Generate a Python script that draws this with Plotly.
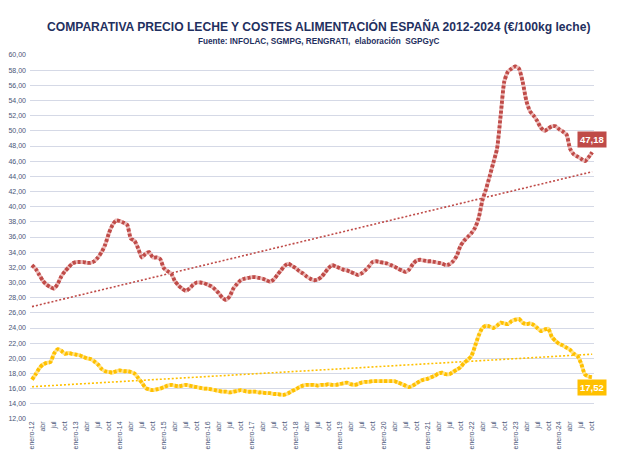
import numpy as np
import plotly.graph_objects as go

# ---------------- data (monthly, Jan 2012 - Oct 2024) ----------------
leche_2012 = [32.3, 31.8, 31.0, 30.2, 29.7, 29.4, 29.2, 29.8, 30.8, 31.5, 32.0, 32.5]
leche_2013 = [32.7, 32.7, 32.7, 32.6, 32.6, 32.8, 33.3, 34.0, 35.0, 36.5, 37.6, 38.2]
leche_2014 = [38.1, 37.9, 37.6, 35.8, 35.5, 34.5, 33.3, 33.8, 34.0, 33.3, 33.3, 33.1]
leche_2015 = [31.9, 31.5, 31.2, 30.2, 29.6, 29.2, 28.9, 29.2, 29.7, 30.0, 30.0, 29.9]
leche_2016 = [29.7, 29.5, 29.1, 28.6, 28.0, 27.7, 28.2, 29.2, 29.8, 30.3, 30.5, 30.6]
leche_2017 = [30.7, 30.7, 30.6, 30.5, 30.3, 30.1, 30.4, 31.0, 31.6, 32.2, 32.5, 32.2]
leche_2018 = [31.9, 31.5, 31.2, 30.8, 30.5, 30.3, 30.4, 30.7, 31.3, 31.9, 32.3, 32.1]
leche_2019 = [31.9, 31.7, 31.6, 31.4, 31.2, 31.0, 31.2, 31.6, 32.1, 32.7, 32.8, 32.7]
leche_2020 = [32.6, 32.5, 32.3, 32.1, 31.8, 31.6, 31.4, 31.7, 32.4, 32.9, 33.0, 32.9]
leche_2021 = [32.8, 32.8, 32.7, 32.6, 32.5, 32.3, 32.4, 32.8, 33.5, 34.8, 35.5, 36.0]
leche_2022 = [36.5, 37.2, 38.5, 40.8, 42.3, 44.0, 45.8, 47.6, 52.0, 56.5, 57.8, 58.2]
leche_2023 = [58.5, 58.2, 56.5, 54.0, 52.6, 52.0, 51.3, 50.4, 50.0, 50.3, 50.6, 50.6]
leche_2024 = [50.2, 49.9, 49.5, 47.6, 46.9, 46.6, 46.3, 46.0, 46.5, 47.18]

alim_2012 = [17.2, 17.9, 18.7, 19.2, 19.4, 19.5, 20.6, 21.2, 21.0, 20.6, 20.7, 20.6]
alim_2013 = [20.5, 20.4, 20.2, 20.0, 19.9, 19.6, 19.2, 18.6, 18.3, 18.2, 18.1, 18.3]
alim_2014 = [18.4, 18.3, 18.3, 18.2, 18.0, 17.4, 16.8, 16.1, 15.9, 15.8, 15.9, 16.0]
alim_2015 = [16.2, 16.4, 16.5, 16.4, 16.3, 16.4, 16.5, 16.4, 16.3, 16.2, 16.1, 16.0]
alim_2016 = [16.0, 15.9, 15.8, 15.7, 15.6, 15.6, 15.5, 15.6, 15.7, 15.8, 15.7, 15.6]
alim_2017 = [15.6, 15.6, 15.5, 15.5, 15.4, 15.4, 15.3, 15.3, 15.2, 15.2, 15.4, 15.7]
alim_2018 = [15.9, 16.2, 16.4, 16.5, 16.5, 16.5, 16.4, 16.5, 16.5, 16.6, 16.5, 16.5]
alim_2019 = [16.6, 16.7, 16.8, 16.6, 16.5, 16.6, 16.8, 16.9, 16.9, 17.0, 17.0, 17.0]
alim_2020 = [17.0, 17.0, 17.0, 17.0, 16.8, 16.6, 16.4, 16.2, 16.4, 16.7, 17.0, 17.2]
alim_2021 = [17.3, 17.5, 17.7, 18.0, 18.1, 17.9, 17.9, 18.2, 18.5, 18.8, 19.4, 19.8]
alim_2022 = [20.3, 21.6, 23.0, 24.0, 24.3, 24.2, 24.0, 24.3, 24.7, 24.6, 24.5, 24.9]
alim_2023 = [25.1, 25.2, 24.7, 24.5, 24.6, 24.4, 24.0, 23.6, 23.8, 23.9, 22.8, 22.3]
alim_2024 = [21.9, 21.7, 21.4, 21.1, 20.6, 20.3, 19.3, 17.9, 17.6, 17.52]

years = ["12", "13", "14", "15", "16", "17", "18", "19", "20", "21", "22", "23", "24"]
quarter_labels = ["enero-{}", "abr", "jul", "oct"]

title_text = "COMPARATIVA PRECIO LECHE Y COSTES ALIMENTACIÓN ESPAÑA 2012-2024 (€/100kg leche)"
subtitle_text = "Fuente: INFOLAC, SGMPG, RENGRATI,  elaboración  SGPGyC"

# ---------------- build ----------------
leche = (leche_2012 + leche_2013 + leche_2014 + leche_2015 + leche_2016 + leche_2017 +
         leche_2018 + leche_2019 + leche_2020 + leche_2021 + leche_2022 + leche_2023 + leche_2024)
alim = (alim_2012 + alim_2013 + alim_2014 + alim_2015 + alim_2016 + alim_2017 +
        alim_2018 + alim_2019 + alim_2020 + alim_2021 + alim_2022 + alim_2023 + alim_2024)
n = len(leche)
x = np.arange(n)

tickvals, ticktext = [], []
for yi, yy in enumerate(years):
    for qi, lab in enumerate(quarter_labels):
        m = yi * 12 + qi * 3
        if m < n:
            tickvals.append(m)
            ticktext.append(lab.format(yy))

red_dark, red_light = "#bf4b48", "#ecbcba"
yel_dark, yel_light = "#ffc000", "#ffe38a"
FONT = "Liberation Sans, Arial, sans-serif"

fig = go.Figure()

# trend lines
for series, col in [(leche, red_dark), (alim, yel_dark)]:
    a, b = np.polyfit(x, np.array(series), 1)
    fig.add_trace(go.Scatter(x=x, y=a * x + b, mode="lines",
                             line=dict(color=col, width=1.6, dash="2px,2px"),
                             hoverinfo="skip", showlegend=False))

# main series: light base + dark dotted overlay
for series, dark, light in [(leche, red_dark, red_light), (alim, yel_dark, yel_light)]:
    fig.add_trace(go.Scatter(x=x, y=series, mode="lines",
                             line=dict(color=light, width=3.8, shape="spline", smoothing=0.6),
                             showlegend=False))
    fig.add_trace(go.Scatter(x=x, y=series, mode="lines",
                             line=dict(color=dark, width=3.8, dash="3px,2px", shape="spline", smoothing=0.6),
                             showlegend=False))

# end labels
fig.add_annotation(x=x[-1], y=leche[-1], text="<b>{:.2f}</b>".format(leche[-1]).replace(".", ","),
                   showarrow=False, yshift=13, xshift=0, bgcolor=red_dark,
                   font=dict(color="white", size=9.5, family=FONT), borderpad=2)
fig.add_annotation(x=x[-1], y=alim[-1], text="<b>{:.2f}</b>".format(alim[-1]).replace(".", ","),
                   showarrow=False, yshift=-10, xshift=0, bgcolor=yel_dark,
                   font=dict(color="white", size=9.5, family=FONT), borderpad=2)

# layout geometry (page body has an 8px offset)
L, R, T, B = 22, 50, 47, 50
plot_h = 461 - T - B
plot_w = 636 - L - R

# title & subtitle
fig.add_annotation(xref="paper", yref="paper", x=(310 - L) / plot_w, y=(461 - B - 18) / plot_h,
                   xanchor="center", yanchor="middle", showarrow=False,
                   text="<b>" + title_text + "</b>",
                   font=dict(family=FONT, size=12.1, color="#1f3060"))
fig.add_annotation(xref="paper", yref="paper", x=(310 - L) / plot_w, y=(461 - B - 34) / plot_h,
                   xanchor="center", yanchor="middle", showarrow=False,
                   text="<b>" + subtitle_text + "</b>",
                   font=dict(family=FONT, size=8.2, color="#1f3060"))

fig.update_layout(
    width=636, height=461,
    paper_bgcolor="white", plot_bgcolor="white",
    margin=dict(l=L, r=R, t=T, b=B),
    separators=",.",
    xaxis=dict(
        range=[-0.55, n - 1 + 0.5], automargin=False,
        tickmode="array", tickvals=tickvals, ticktext=ticktext, tickangle=-90,
        tickfont=dict(family=FONT, size=7, color="#4a5678"),
        showgrid=False, zeroline=False, showline=False, ticks="",
    ),
    yaxis=dict(
        range=[12, 60], dtick=2, tick0=12, tickformat=".2f", automargin=False,
        tickfont=dict(family=FONT, size=7, color="#4a5678"),
        showgrid=True, gridcolor="#d5d9e6", gridwidth=1, zeroline=False, showline=False,
        ticks="", ticklabelstandoff=3,
    ),
)

fig.write_html("out.html")
